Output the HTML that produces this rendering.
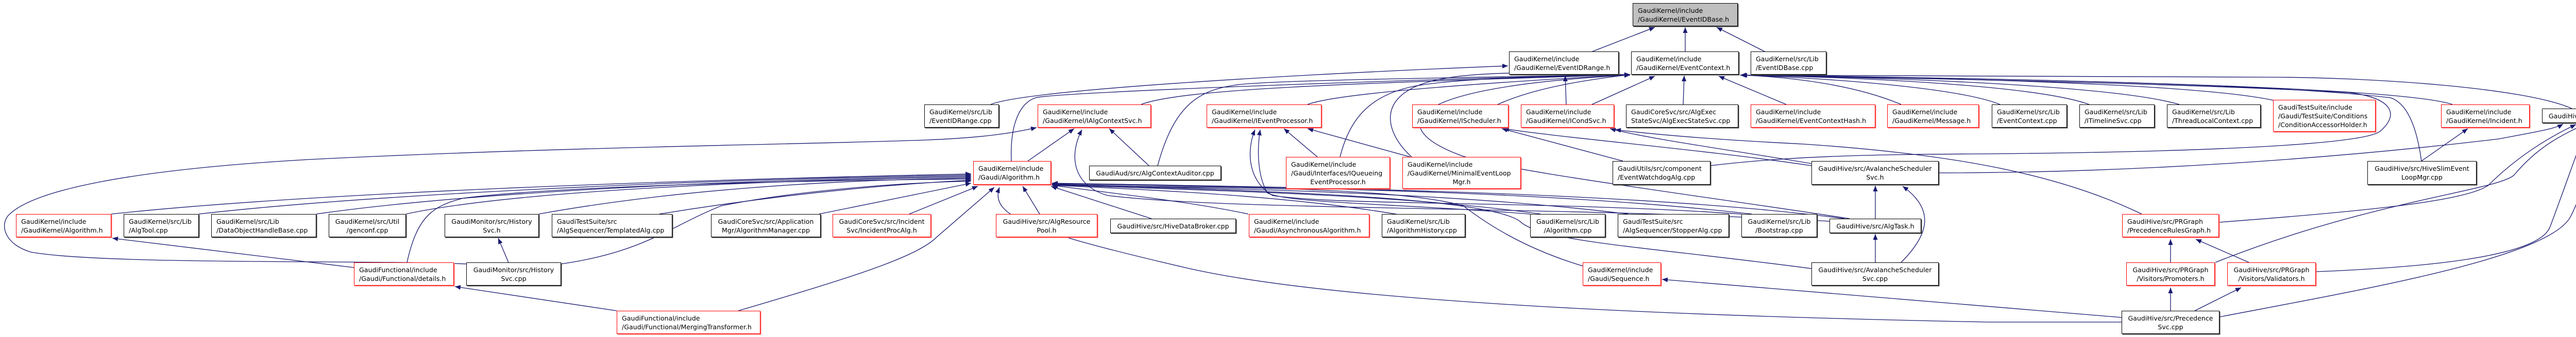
<!DOCTYPE html>
<html><head><meta charset="utf-8"><style>
body{margin:0;background:#fff}
#c{position:relative;width:5130px;height:655px;overflow:hidden;background:#fff}
svg{position:absolute;left:0;top:0}
.n{position:absolute;box-sizing:border-box;border:1.5px solid #000;background:#fff;font:12.6px/17px "DejaVu Sans","Liberation Sans",sans-serif;color:#000;padding:0 0 0 9px;white-space:nowrap;display:flex;flex-direction:column;justify-content:center;box-shadow:1.5px 1.5px 0 #444}
.r{border-color:#f00;box-shadow:1.5px 1.5px 0 #f66}
.c{text-align:center;padding:0}
.g{background:#bfbfbf}
.n span.m{text-align:center;display:block;padding-right:9px}
</style></head><body><div id="c">
<svg width="5130" height="655" viewBox="0 0 5130 655">
<defs><marker id="a" markerUnits="userSpaceOnUse" markerWidth="12" markerHeight="10" refX="11" refY="4.5" orient="auto"><path d="M0,0 L11,4.5 L0,9 z" fill="#191970"/></marker></defs>
<g fill="none" stroke="#191970" stroke-width="1.3" marker-end="url(#a)">
<path d="M3091,100 L3212,53"/>
<path d="M3271,100 L3271,53"/>
<path d="M3425,100 L3332,53"/>
<path d="M1923,203 C1990,175 2500,145 2927,128"/>
<path d="M3040,203 L3038,147"/>
<path d="M3090,203 L3212,148"/>
<path d="M3267,203 L3269,147"/>
<path d="M3467,203 L3336,148"/>
<path d="M3690,203 C3600,165 3480,150 3380,146"/>
<path d="M2907,203 C2980,170 3080,155 3164,145"/>
<path d="M2215,203 C2300,170 2700,160 3164,145"/>
<path d="M2538,203 C2600,180 2900,160 3164,145"/>
<path d="M1963,313 C1960,240 1980,200 2010,190 S2700,155 3164,145"/>
<path d="M2247,322 C2280,200 2330,175 2400,165 S2900,150 3164,145"/>
<path d="M2601,305 C2620,230 2660,180 2760,165 S3050,148 3164,145"/>
<path d="M2740,305 C2690,260 2670,190 2770,160 S3100,146 3164,145"/>
<path d="M3590,425 C3300,380 2900,330 2830,300 C2700,250 2700,170 3164,146"/>
<path d="M216,416 C600,375 1300,350 1885,338"/>
<path d="M386,416 C700,380 1300,350 1885,340"/>
<path d="M614,416 C900,375 1400,350 1885,342"/>
<path d="M788,416 C1000,370 1500,350 1885,344"/>
<path d="M1046,416 C1300,370 1600,350 1885,346"/>
<path d="M790,510 C810,420 840,400 900,385 C1100,360 1600,350 1885,348"/>
<path d="M1280,416 C1500,380 1700,360 1885,350"/>
<path d="M1089,513 C1250,490 1300,440 1400,400 C1550,370 1750,355 1885,352"/>
<path d="M1590,416 L1885,356"/>
<path d="M1765,416 L1898,362"/>
<path d="M1433,604 C1650,540 1780,500 1819,460 L1930,364"/>
<path d="M2018,416 L1985,362"/>
<path d="M2235,425 L2040,362"/>
<path d="M2423,416 C2300,390 2150,375 2042,360"/>
<path d="M2720,418 C2500,380 2250,370 2042,360"/>
<path d="M2990,416 C2700,375 2300,370 2042,359"/>
<path d="M3160,416 C2800,372 2400,368 2042,358"/>
<path d="M3400,416 C3000,370 2500,365 2042,357"/>
<path d="M3580,425 C3200,375 2600,365 2042,356"/>
<path d="M4118,626 L3860,626 C3300,615 2600,590 2300,520 C2000,450 1920,420 1940,364"/>
<path d="M3072,517 C2950,480 2880,430 2840,400 C2700,360 2300,365 2042,360"/>
<path d="M3516,522 C3200,480 2990,470 2950,430 C2880,380 2400,370 2042,358"/>
<path d="M3551,430 C3000,400 2400,410 2150,380 C2080,360 2075,300 2100,252"/>
<path d="M3380,416 C3000,390 2600,400 2470,380 C2420,350 2420,290 2436,252"/>
<path d="M2970,416 C2700,395 2500,395 2460,375 C2440,340 2440,290 2446,252"/>
<path d="M2557,305 L2492,250"/>
<path d="M2737,305 L2538,250"/>
<path d="M3150,313 L2915,250"/>
<path d="M3516,322 C3300,290 3050,270 2918,250"/>
<path d="M3516,318 C3350,290 3200,270 3125,250"/>
<path d="M4157,416 C4000,340 3800,300 3500,280 C3300,270 3200,260 3135,252"/>
<path d="M3320,322 C3500,300 3700,300 3860,299 C4300,295 4590,280 4620,255 C4660,220 4640,190 4560,180 C4200,160 3600,150 3380,146"/>
<path d="M3763,336 C4200,336 4600,300 4850,270 C4930,255 4960,250 4975,241"/>
<path d="M4307,432 C4600,410 4790,390 4830,360 C4880,310 4940,270 5000,242"/>
<path d="M4300,510 C4600,390 4850,370 4880,340 C4930,280 4980,260 5015,242"/>
<path d="M4495,528 C4700,520 4930,500 4950,440 C4980,360 5000,300 5022,244"/>
<path d="M4308,616 C4600,560 4950,500 4990,420 C5020,360 5030,300 5030,244"/>
<path d="M4700,313 L4790,250"/>
<path d="M4700,313 C4690,240 4670,200 4640,190 C4400,160 3700,150 3378,146"/>
<path d="M3882,203 C3800,170 3550,152 3378,146"/>
<path d="M4055,203 C3950,165 3600,150 3378,146"/>
<path d="M4230,203 C4100,165 3650,150 3378,146"/>
<path d="M4413,195 C4250,160 3700,150 3378,146"/>
<path d="M4760,203 C4650,165 3750,150 3378,146"/>
<path d="M4992,211 C4900,170 4600,150 4400,150 C4000,148 3600,146 3378,146"/>
<path d="M4213,510 L4213,465"/>
<path d="M4365,510 L4262,465"/>
<path d="M4213,604 L4213,559"/>
<path d="M4260,604 L4350,559"/>
<path d="M3640,425 L3640,361"/>
<path d="M3640,510 L3640,455"/>
<path d="M3690,510 C3740,460 3760,410 3693,362"/>
<path d="M4118,617 L3226,543"/>
<path d="M687,520 L218,463"/>
<path d="M1197,604 L883,557"/>
<path d="M987,510 L967,463"/>
<path d="M905,513 C700,505 200,515 60,490 C10,475 0,440 15,420 C60,370 250,330 600,310 C1100,285 1600,280 1800,272 C1900,268 1960,260 2012,248"/>
<path d="M1995,313 L2085,250"/>
<path d="M2230,322 L2153,250"/>
</g></svg>

<div class="n g" style="left:3169px;top:6px;width:204px;height:45px">GaudiKernel/include<br>/GaudiKernel/EventIDBase.h</div>
<div class="n" style="left:2929px;top:100px;width:213px;height:45px">GaudiKernel/include<br>/GaudiKernel/EventIDRange.h</div>
<div class="n" style="left:3166px;top:100px;width:209px;height:45px">GaudiKernel/include<br>/GaudiKernel/EventContext.h</div>
<div class="n" style="left:3398px;top:100px;width:147px;height:45px">GaudiKernel/src/Lib<br>/EventIDBase.cpp</div>

<div class="n" style="left:1794px;top:203px;width:145px;height:45px">GaudiKernel/src/Lib<br>/EventIDRange.cpp</div>
<div class="n r" style="left:2014px;top:203px;width:220px;height:45px">GaudiKernel/include<br>/GaudiKernel/IAlgContextSvc.h</div>
<div class="n r" style="left:2342px;top:203px;width:223px;height:45px">GaudiKernel/include<br>/GaudiKernel/IEventProcessor.h</div>
<div class="n r" style="left:2741px;top:203px;width:187px;height:45px">GaudiKernel/include<br>/GaudiKernel/IScheduler.h</div>
<div class="n r" style="left:2952px;top:203px;width:181px;height:45px">GaudiKernel/include<br>/GaudiKernel/ICondSvc.h</div>
<div class="n" style="left:3156px;top:203px;width:218px;height:45px">GaudiCoreSvc/src/AlgExec<br>StateSvc/AlgExecStateSvc.cpp</div>
<div class="n r" style="left:3398px;top:203px;width:242px;height:45px">GaudiKernel/include<br>/GaudiKernel/EventContextHash.h</div>
<div class="n r" style="left:3663px;top:203px;width:178px;height:45px">GaudiKernel/include<br>/GaudiKernel/Message.h</div>
<div class="n" style="left:3866px;top:203px;width:146px;height:45px">GaudiKernel/src/Lib<br>/EventContext.cpp</div>
<div class="n" style="left:4036px;top:203px;width:146px;height:45px">GaudiKernel/src/Lib<br>/ITimelineSvc.cpp</div>
<div class="n" style="left:4206px;top:203px;width:182px;height:45px">GaudiKernel/src/Lib<br>/ThreadLocalContext.cpp</div>
<div class="n r" style="left:4412px;top:194px;width:199px;height:62px">GaudiTestSuite/include<br>/Gaudi/TestSuite/Conditions<br>/ConditionAccessorHolder.h</div>
<div class="n r" style="left:4738px;top:203px;width:172px;height:45px">GaudiKernel/include<br>/GaudiKernel/Incident.h</div>
<div class="n c" style="left:4934px;top:211px;width:190px;height:28px">GaudiHive/src/EventSlot.h</div>

<div class="n r" style="left:1889px;top:313px;width:151px;height:46px">GaudiKernel/include<br>/Gaudi/Algorithm.h</div>
<div class="n c" style="left:2114px;top:322px;width:256px;height:28px">GaudiAud/src/AlgContextAuditor.cpp</div>
<div class="n r" style="left:2496px;top:305px;width:202px;height:62px">GaudiKernel/include<br>/Gaudi/Interfaces/IQueueing<br><span class="m">EventProcessor.h</span></div>
<div class="n r" style="left:2722px;top:305px;width:230px;height:62px">GaudiKernel/include<br>/GaudiKernel/MinimalEventLoop<br><span class="m">Mgr.h</span></div>
<div class="n" style="left:3130px;top:313px;width:190px;height:46px">GaudiUtils/src/component<br>/EventWatchdogAlg.cpp</div>
<div class="n c" style="left:3516px;top:313px;width:247px;height:46px">GaudiHive/src/AvalancheScheduler<br>Svc.h</div>
<div class="n c" style="left:4595px;top:313px;width:212px;height:46px">GaudiHive/src/HiveSlimEvent<br>LoopMgr.cpp</div>

<div class="n r" style="left:31px;top:416px;width:185px;height:45px">GaudiKernel/include<br>/GaudiKernel/Algorithm.h</div>
<div class="n" style="left:240px;top:416px;width:146px;height:45px">GaudiKernel/src/Lib<br>/AlgTool.cpp</div>
<div class="n" style="left:410px;top:416px;width:204px;height:45px">GaudiKernel/src/Lib<br>/DataObjectHandleBase.cpp</div>
<div class="n c" style="left:638px;top:416px;width:150px;height:45px">GaudiKernel/src/Util<br>/genconf.cpp</div>
<div class="n c" style="left:863px;top:416px;width:183px;height:45px">GaudiMonitor/src/History<br>Svc.h</div>
<div class="n" style="left:1071px;top:416px;width:234px;height:45px">GaudiTestSuite/src<br>/AlgSequencer/TemplatedAlg.cpp</div>
<div class="n c" style="left:1380px;top:416px;width:213px;height:45px">GaudiCoreSvc/src/Application<br>Mgr/AlgorithmManager.cpp</div>
<div class="n r c" style="left:1616px;top:416px;width:191px;height:45px">GaudiCoreSvc/src/Incident<br>Svc/IncidentProcAlg.h</div>
<div class="n r c" style="left:1933px;top:416px;width:197px;height:45px">GaudiHive/src/AlgResource<br>Pool.h</div>
<div class="n c" style="left:2155px;top:425px;width:244px;height:28px">GaudiHive/src/HiveDataBroker.cpp</div>
<div class="n r" style="left:2424px;top:416px;width:234px;height:45px">GaudiKernel/include<br>/Gaudi/AsynchronousAlgorithm.h</div>
<div class="n" style="left:2682px;top:416px;width:162px;height:45px">GaudiKernel/src/Lib<br>/AlgorithmHistory.cpp</div>
<div class="n c" style="left:2970px;top:416px;width:146px;height:45px">GaudiKernel/src/Lib<br>/Algorithm.cpp</div>
<div class="n" style="left:3140px;top:416px;width:216px;height:45px">GaudiTestSuite/src<br>/AlgSequencer/StopperAlg.cpp</div>
<div class="n c" style="left:3380px;top:416px;width:147px;height:45px">GaudiKernel/src/Lib<br>/Bootstrap.cpp</div>
<div class="n c" style="left:3551px;top:425px;width:178px;height:28px">GaudiHive/src/AlgTask.h</div>
<div class="n r" style="left:4119px;top:416px;width:188px;height:45px">GaudiHive/src/PRGraph<br>/PrecedenceRulesGraph.h</div>

<div class="n r" style="left:687px;top:510px;width:194px;height:45px">GaudiFunctional/include<br>/Gaudi/Functional/details.h</div>
<div class="n c" style="left:905px;top:510px;width:184px;height:45px">GaudiMonitor/src/History<br>Svc.cpp</div>
<div class="n r" style="left:3072px;top:510px;width:152px;height:45px">GaudiKernel/include<br>/Gaudi/Sequence.h</div>
<div class="n c" style="left:3516px;top:510px;width:247px;height:45px">GaudiHive/src/AvalancheScheduler<br>Svc.cpp</div>
<div class="n r c" style="left:4127px;top:510px;width:172px;height:45px">GaudiHive/src/PRGraph<br>/Visitors/Promoters.h</div>
<div class="n r c" style="left:4323px;top:510px;width:172px;height:45px">GaudiHive/src/PRGraph<br>/Visitors/Validators.h</div>

<div class="n r" style="left:1197px;top:604px;width:279px;height:45px">GaudiFunctional/include<br>/Gaudi/Functional/MergingTransformer.h</div>
<div class="n c" style="left:4118px;top:604px;width:190px;height:45px">GaudiHive/src/Precedence<br>Svc.cpp</div>
</div></body></html>
